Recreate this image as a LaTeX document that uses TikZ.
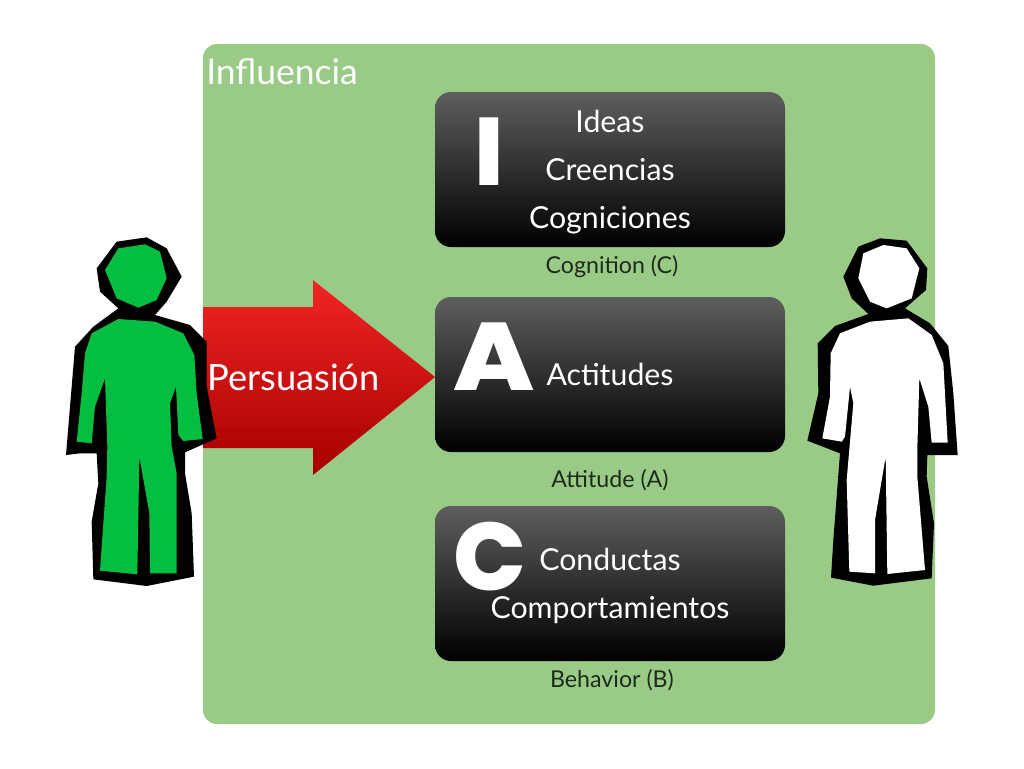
\documentclass[tikz,border=0pt]{standalone}
\usepackage{fontspec}
\setmainfont{Lato}
\newfontfamily\heavyf{Poppins}[UprightFont=* ExtraBold]
\definecolor{panelgreen}{HTML}{99CB87}
\definecolor{figgreen}{HTML}{04BE41}
\definecolor{capdark}{HTML}{1E2A1C}
\tikzset{
  x=0.75pt,y=-0.75pt,
  panel/.style={fill=panelgreen,rounded corners=10.5pt},
  darkbox/.style={rounded corners=12pt,top color=black!63,bottom color=black,draw=none},
  boxtext/.style={text=white,font=\fontsize{22.7}{24}\selectfont,anchor=base},
  captext/.style={text=capdark,font=\fontsize{17.4}{19}\selectfont,anchor=base},
  bigletter/.style={text=white,font=\heavyf\fontsize{72}{72}\selectfont,anchor=base,inner sep=0pt},
  outline/.style={fill=black,draw=none},
}
\begin{document}
\begin{tikzpicture}
\useasboundingbox (0,0) rectangle (1024,768);
\fill[white] (0,0) rectangle (1024,768);
\fill[panel] (203,44) rectangle (935,724);
\node[text=white,font=\fontsize{26.6}{28}\selectfont,anchor=base west,inner sep=0pt] (influencia) at (206,84) {Influencia};

% arrow
\shade[top color=red!85!white!95!black,bottom color=red!65!black,draw=none] (203,307) -- (313,307) -- (313,280) -- (435,377) -- (313,475) -- (313,448) -- (203,448) -- cycle;
\node[text=white,anchor=base west,inner sep=0pt,font=\fontsize{27.2}{29}\selectfont] (persuasion) at (207,390) {Persuasión};

% boxes
\shade[darkbox] (435,92) rectangle (785,247);
\shade[darkbox] (435,297) rectangle (785,452);
\shade[darkbox] (435,506) rectangle (785,661);

\node[bigletter] (letI) at (489,185) {I};
\node[bigletter,xscale=1.12,transform shape] (letA) at (494,390) {A};
\node[bigletter] (letC) at (490,590) {C};

\node[boxtext] (ideas) at (610,132) {Ideas};
\node[boxtext] (creencias) at (610,180) {Creencias};
\node[boxtext] (cogniciones) at (610,228) {Cogniciones};
\node[boxtext] (actitudes) at (610,385) {Actitudes};
\node[boxtext] (conductas) at (610,570) {Conductas};
\node[boxtext] (comport) at (610,618) {Comportamientos};

\node[captext] (capC) at (612,273) {Cognition (C)};
\node[captext] (capA) at (610,487) {Attitude (A)};
\node[captext] (capB) at (612,687) {Behavior (B)};

% left figure
\begin{scope}[shift={(50,220)},x=0.25pt,y=-0.25pt]
\fill[outline] (200,65)--(290,52)--(350,85)--(395,170)--(350,245)--(315,285)--(420,315)--(470,365)--(470,500)--(500,655)--(405,697)--(405,760)--(425,880)--(432,1070)--(290,1098)--(130,1078)--(125,905)--(145,790)--(140,700)--(90,700)--(48,705)--(60,560)--(75,380)--(130,320)--(205,265)--(150,215)--(140,145)--cycle;
\fill[figgreen] (205,85)--(285,73)--(330,95)--(350,175)--(320,240)--(265,263)--(200,235)--(165,150)--cycle;
\fill[figgreen] (205,297)--(315,305)--(400,340)--(433,405)--(440,520)--(458,657)--(400,663)--(385,645)--(378,500)--(360,550)--(365,680)--(380,760)--(380,1060)--(300,1060)--(298,880)--(268,710)--(262,1063)--(150,1052)--(170,770)--(172,680)--(165,475)--(135,560)--(125,670)--(80,665)--(95,520)--(105,400)--(125,340)--cycle;
\end{scope}

% right figure
\begin{scope}[shift={(790,220)},x=0.25pt,y=-0.25pt]
\fill[outline] (205,80)--(270,55)--(350,62)--(412,145)--(408,210)--(345,265)--(420,310)--(475,378)--(490,520)--(503,705)--(412,705)--(410,770)--(432,910)--(425,1075)--(250,1097)--(123,1073)--(130,960)--(150,700)--(52,662)--(85,520)--(83,370)--(135,318)--(235,282)--(185,235)--(160,170)--cycle;
\fill[white] (220,100)--(280,75)--(350,85)--(388,145)--(365,235)--(290,265)--(240,245)--(205,175)--cycle;
\fill[white] (240,305)--(355,295)--(425,345)--(460,430)--(473,668)--(425,668)--(415,560)--(388,475)--(382,685)--(382,770)--(405,1050)--(292,1062)--(287,710)--(255,900)--(255,1060)--(178,1055)--(170,780)--(190,550)--(180,500)--(165,650)--(155,665)--(97,655)--(120,530)--(122,400)--(150,340)--cycle;
\end{scope}
\end{tikzpicture}
\end{document}
